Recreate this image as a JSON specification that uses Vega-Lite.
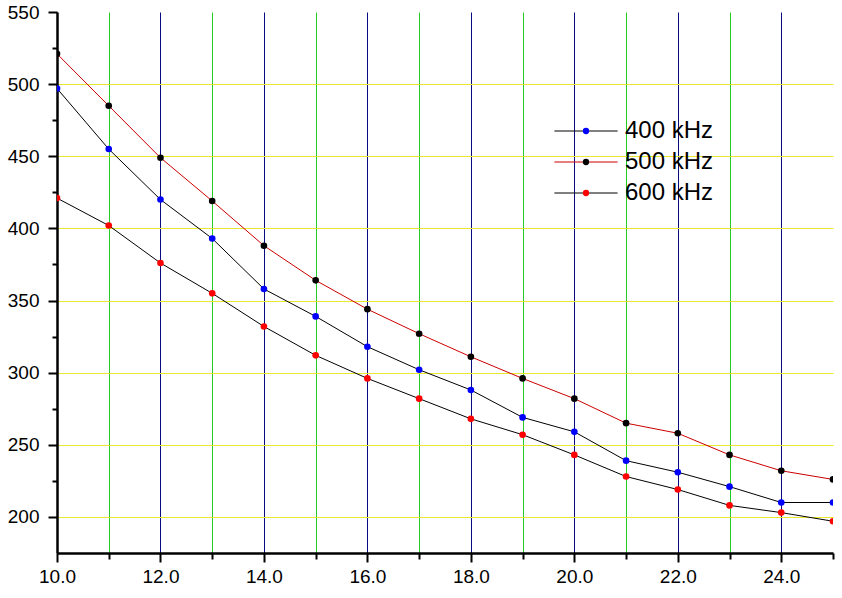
{
  "$schema": "https://vega.github.io/schema/vega-lite/v6.json",
  "width": 776,
  "height": 541,
  "autosize": {"type": "none"},
  "padding": {"left": 57, "top": 12, "right": 9, "bottom": 45},
  "background": "white",
  "config": {"view": {"stroke": null}, "font": "Liberation Sans"},
  "data": {"values": [
    {"x": 10, "y": 497, "series": "400 kHz"}, {"x": 11, "y": 455, "series": "400 kHz"}, {"x": 12, "y": 420, "series": "400 kHz"}, {"x": 13, "y": 393, "series": "400 kHz"},
    {"x": 14, "y": 358, "series": "400 kHz"}, {"x": 15, "y": 339, "series": "400 kHz"}, {"x": 16, "y": 318, "series": "400 kHz"}, {"x": 17, "y": 302, "series": "400 kHz"},
    {"x": 18, "y": 288, "series": "400 kHz"}, {"x": 19, "y": 269, "series": "400 kHz"}, {"x": 20, "y": 259, "series": "400 kHz"}, {"x": 21, "y": 239, "series": "400 kHz"},
    {"x": 22, "y": 231, "series": "400 kHz"}, {"x": 23, "y": 221, "series": "400 kHz"}, {"x": 24, "y": 210, "series": "400 kHz"}, {"x": 25, "y": 210, "series": "400 kHz"},
    {"x": 10, "y": 521, "series": "500 kHz"}, {"x": 11, "y": 485, "series": "500 kHz"}, {"x": 12, "y": 449, "series": "500 kHz"}, {"x": 13, "y": 419, "series": "500 kHz"},
    {"x": 14, "y": 388, "series": "500 kHz"}, {"x": 15, "y": 364, "series": "500 kHz"}, {"x": 16, "y": 344, "series": "500 kHz"}, {"x": 17, "y": 327, "series": "500 kHz"},
    {"x": 18, "y": 311, "series": "500 kHz"}, {"x": 19, "y": 296, "series": "500 kHz"}, {"x": 20, "y": 282, "series": "500 kHz"}, {"x": 21, "y": 265, "series": "500 kHz"},
    {"x": 22, "y": 258, "series": "500 kHz"}, {"x": 23, "y": 243, "series": "500 kHz"}, {"x": 24, "y": 232, "series": "500 kHz"}, {"x": 25, "y": 226, "series": "500 kHz"},
    {"x": 10, "y": 421, "series": "600 kHz"}, {"x": 11, "y": 402, "series": "600 kHz"}, {"x": 12, "y": 376, "series": "600 kHz"}, {"x": 13, "y": 355, "series": "600 kHz"},
    {"x": 14, "y": 332, "series": "600 kHz"}, {"x": 15, "y": 312, "series": "600 kHz"}, {"x": 16, "y": 296, "series": "600 kHz"}, {"x": 17, "y": 282, "series": "600 kHz"},
    {"x": 18, "y": 268, "series": "600 kHz"}, {"x": 19, "y": 257, "series": "600 kHz"}, {"x": 20, "y": 243, "series": "600 kHz"}, {"x": 21, "y": 228, "series": "600 kHz"},
    {"x": 22, "y": 219, "series": "600 kHz"}, {"x": 23, "y": 208, "series": "600 kHz"}, {"x": 24, "y": 203, "series": "600 kHz"}, {"x": 25, "y": 197, "series": "600 kHz"}
  ]},
  "layer": [
    {
      "mark": {"type": "line", "strokeWidth": 1, "clip": true},
      "encoding": {
        "x": {
          "field": "x", "type": "quantitative",
          "scale": {"domain": [10, 25], "nice": false, "zero": false},
          "axis": {
            "orient": "bottom", "title": null,
            "values": [10, 12, 14, 16, 18, 20, 22, 24],
            "format": ".1f",
            "labelFontSize": 19, "labelColor": "black", "labelPadding": 5, "labelFlush": false, "labelOverlap": false,
            "domainColor": "black", "domainWidth": 2.5,
            "tickColor": "black", "tickWidth": 2, "tickSize": 9,
            "grid": true, "gridColor": "#0a0a80", "gridWidth": 1, "gridOpacity": 1
          }
        },
        "y": {
          "field": "y", "type": "quantitative",
          "scale": {"domain": [175, 550], "nice": false, "zero": false},
          "axis": {
            "orient": "left", "title": null,
            "values": [200, 250, 300, 350, 400, 450, 500],
            "format": "d",
            "labelFontSize": 19, "labelColor": "black", "labelPadding": 9, "labelFlush": false, "labelOverlap": false,
            "domainColor": "black", "domainWidth": 2.5,
            "tickColor": "black", "tickWidth": 2, "tickSize": 9,
            "grid": true, "gridColor": "#e8e830", "gridWidth": 1, "gridOpacity": 1
          }
        },
        "stroke": {
          "field": "series", "type": "nominal",
          "scale": {"domain": ["400 kHz", "500 kHz", "600 kHz"], "range": ["#000000", "#cc0000", "#000000"]},
          "legend": {
            "orient": "none", "legendX": 517, "legendY": 107, "title": null, "padding": 0,
            "symbolType": "M-10,0H10", "symbolSize": 40, "symbolStrokeWidth": 1,
            "labelFontSize": 24, "labelColor": "black", "labelOffset": 27, "rowPadding": 7
          }
        }
      }
    },
    {
      "mark": {"type": "circle", "size": 44, "opacity": 1, "clip": true},
      "encoding": {
        "x": {
          "field": "x", "type": "quantitative",
          "scale": {"domain": [10, 25], "nice": false, "zero": false},
          "axis": {
            "orient": "bottom", "title": null,
            "values": [11, 13, 15, 17, 19, 21, 23, 25],
            "labels": false, "domain": false,
            "tickColor": "black", "tickWidth": 2, "tickSize": 6,
            "grid": true, "gridColor": "#22cc22", "gridWidth": 1,
            "gridOpacity": {"condition": {"test": "datum.value === 25", "value": 0}, "value": 1}
          }
        },
        "y": {
          "field": "y", "type": "quantitative",
          "scale": {"domain": [175, 550], "nice": false, "zero": false},
          "axis": {
            "orient": "left", "title": null,
            "values": [225, 275, 325, 375, 425, 475, 525, 550],
            "labelExpr": "datum.value === 550 ? '550' : ''",
            "labelFontSize": 19, "labelColor": "black", "labelPadding": 9, "labelFlush": false, "labelOverlap": false,
            "domain": false, "grid": false,
            "tickColor": "black", "tickWidth": 2,
            "tickSize": {"condition": {"test": "datum.value === 550", "value": 9}, "value": 5}
          }
        },
        "fill": {
          "field": "series", "type": "nominal",
          "scale": {"range": ["#0000ff", "#000000", "#ff0000"]},
          "legend": {
            "orient": "none", "legendX": 517, "legendY": 107, "title": null, "padding": 0,
            "symbolType": "circle", "symbolSize": 40, "symbolOpacity": 1,
            "labelFontSize": 24, "labelOpacity": 0, "labelOffset": 27, "rowPadding": 7
          }
        }
      }
    }
  ],
  "resolve": {"axis": {"x": "independent", "y": "independent"}}
}
